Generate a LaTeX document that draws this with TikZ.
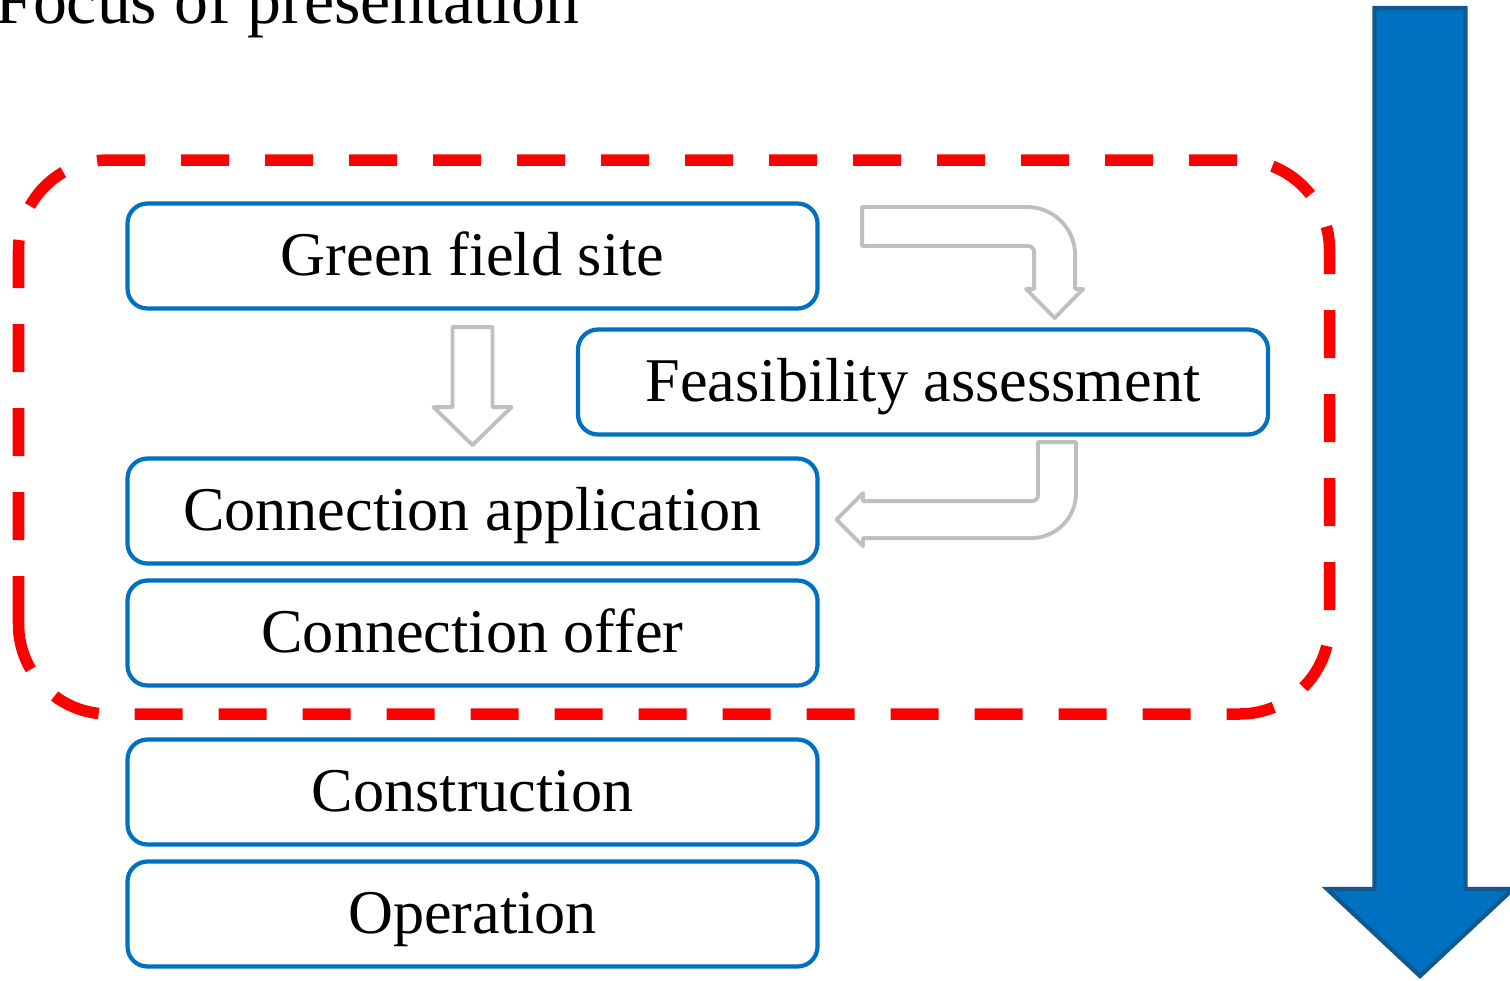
\documentclass[tikz,border=0pt]{standalone}
\usepackage{fontspec}
\setmainfont{Liberation Serif}
\usetikzlibrary{calc}
\definecolor{boxblue}{HTML}{0070C0}
\definecolor{edgeblue}{HTML}{10588F}
\definecolor{arrowgray}{HTML}{BFBFBF}
\tikzset{
  stage/.style={draw=boxblue, line width=1.2pt, rounded corners=0.2cm, fill=white,
    minimum width=6.90cm, minimum height=1.05cm, inner sep=0pt,
    text height=0.5cm, text depth=0.12cm,
    font=\fontsize{17.7pt}{21pt}\selectfont},
  hollow/.style={draw=arrowgray, line width=1.1pt, line join=round, fill=white},
  focusline/.style={red, line width=0.115cm, rounded corners=0.9cm, dash pattern=on 0.48cm off 0.36cm},
}
\begin{document}
\begin{tikzpicture}
    \useasboundingbox (0,0) rectangle (15.10,9.80);
    % title
    \node[anchor=base east, inner sep=0pt, font=\fontsize{19.3pt}{23pt}\selectfont] (title) at (5.80,9.57) {Focus of presentation};
    % focus frame
    \draw[focusline] (0.185,2.66) rectangle (13.295,8.20);
    % stages
    \node[stage] (green) at (4.725,7.24) {Green field site};
    \node[stage] (feas) at (9.23,5.98) {Feasibility assessment};
    \node[stage] (app) at (4.725,4.69) {Connection application};
    \node[stage] (offer) at (4.725,3.47) {Connection offer};
    \node[stage] (constr) at (4.725,1.88) {Construction};
    \node[stage] (oper) at (4.725,0.66) {Operation};
    % hollow arrows
    \draw[hollow] ($(green.south)+(-0.20,-0.165)$) -- ++(0.40,0) -- ++(0,-0.80) -- ++(0.19,0)
        -- ++(-0.39,-0.38) -- ++(-0.39,0.38) -- ++(0.19,0) -- cycle;
    \draw[hollow] ($(green.east)+(0.425,0.49)$) -- ++(1.65,0) arc[start angle=90, end angle=0, radius=0.48]
        -- ++(0,-0.34) -- ++(0.08,0) -- ++(-0.285,-0.29) -- ++(-0.285,0.29) -- ++(0.08,0)
        -- ++(0,0.37) arc[start angle=0, end angle=90, radius=0.06] -- ++(-1.66,0) -- cycle;
    \draw[hollow] ($(feas.south)+(1.15,-0.055)$) -- ++(0.38,0) -- ++(0,-0.51) arc[start angle=0, end angle=-90, radius=0.45]
        -- ++(-1.68,0) -- ++(0,-0.08) -- ++(-0.265,0.265) -- ++(0.265,0.265) -- ++(0,-0.08)
        -- ++(1.69,0) arc[start angle=-90, end angle=0, radius=0.06] -- cycle;
    % time arrow
    \draw[fill=boxblue, draw=edgeblue, line width=1.2pt, line join=miter] (13.745,9.72) -- (14.655,9.72) -- (14.655,0.91)
        -- (15.13,0.91) -- (14.20,0.04) -- (13.27,0.91) -- (13.745,0.91) -- cycle;
\end{tikzpicture}
\end{document}
